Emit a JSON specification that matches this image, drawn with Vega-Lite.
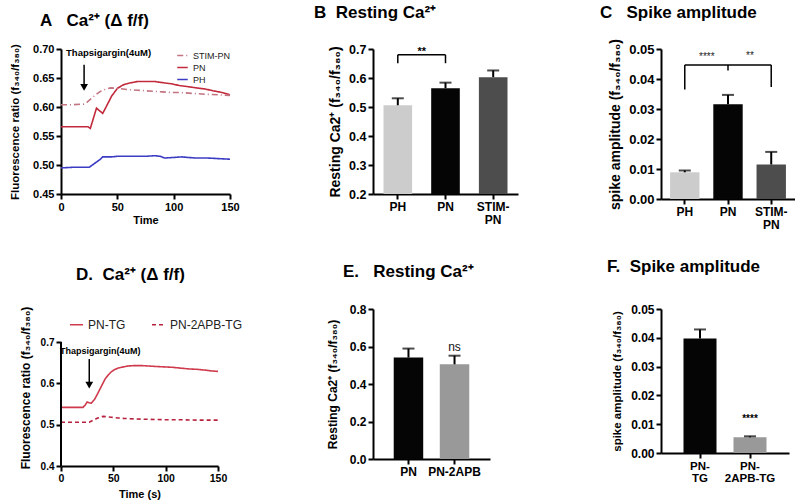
{
  "$schema": "https://vega.github.io/schema/vega-lite/v6.json",
  "padding": {"left": 9, "top": 4, "right": 0, "bottom": 0},
  "columns": 3,
  "align": "each",
  "bounds": "flush",
  "spacing": {"row": 110, "column": 143},
  "resolve": {"scale": {"color": "independent", "strokeDash": "independent"}},
  "config": {
    "font": "Liberation Sans",
    "view": {"stroke": null},
    "axis": {"grid": false, "domainColor": "#000", "domainWidth": 2, "tickColor": "#000", "tickWidth": 2, "tickSize": 5, "labelColor": "#000", "labelFontWeight": "bold", "titleColor": "#000", "titleFontWeight": "bold", "labelFont": "Liberation Sans", "titleFont": "Liberation Sans", "labelPadding": 2, "labelFlush": false, "labelOverlap": false, "tickCount": 20},
    "axisX": {"labelAngle": 0},
    "title": {"anchor": "start", "fontSize": 17, "fontWeight": "bold", "color": "#000", "font": "Liberation Sans"},
    "legend": {"labelColor": "#222", "labelFont": "Liberation Sans"}
  },
  "datasets": {
    "curvesA": [
      {"s": "PN", "t": 0, "v": 0.566}, {"s": "PN", "t": 10, "v": 0.566}, {"s": "PN", "t": 20, "v": 0.566}, {"s": "PN", "t": 24, "v": 0.566}, {"s": "PN", "t": 26, "v": 0.563}, {"s": "PN", "t": 31.5, "v": 0.598}, {"s": "PN", "t": 37, "v": 0.589}, {"s": "PN", "t": 40, "v": 0.6}, {"s": "PN", "t": 45, "v": 0.619}, {"s": "PN", "t": 50, "v": 0.632}, {"s": "PN", "t": 55, "v": 0.638}, {"s": "PN", "t": 60, "v": 0.641}, {"s": "PN", "t": 68, "v": 0.644}, {"s": "PN", "t": 75, "v": 0.644}, {"s": "PN", "t": 83, "v": 0.644}, {"s": "PN", "t": 90, "v": 0.642}, {"s": "PN", "t": 98, "v": 0.64}, {"s": "PN", "t": 105, "v": 0.637}, {"s": "PN", "t": 113, "v": 0.635}, {"s": "PN", "t": 120, "v": 0.633}, {"s": "PN", "t": 128, "v": 0.631}, {"s": "PN", "t": 135, "v": 0.628}, {"s": "PN", "t": 143, "v": 0.625}, {"s": "PN", "t": 150, "v": 0.621},
      {"s": "STIM-PN", "t": 0, "v": 0.604}, {"s": "STIM-PN", "t": 10, "v": 0.604}, {"s": "STIM-PN", "t": 20, "v": 0.605}, {"s": "STIM-PN", "t": 23, "v": 0.608}, {"s": "STIM-PN", "t": 26, "v": 0.613}, {"s": "STIM-PN", "t": 30, "v": 0.62}, {"s": "STIM-PN", "t": 35, "v": 0.627}, {"s": "STIM-PN", "t": 40, "v": 0.631}, {"s": "STIM-PN", "t": 44, "v": 0.633}, {"s": "STIM-PN", "t": 50, "v": 0.632}, {"s": "STIM-PN", "t": 55, "v": 0.631}, {"s": "STIM-PN", "t": 60, "v": 0.63}, {"s": "STIM-PN", "t": 68, "v": 0.629}, {"s": "STIM-PN", "t": 75, "v": 0.628}, {"s": "STIM-PN", "t": 83, "v": 0.627}, {"s": "STIM-PN", "t": 90, "v": 0.626}, {"s": "STIM-PN", "t": 98, "v": 0.625}, {"s": "STIM-PN", "t": 105, "v": 0.625}, {"s": "STIM-PN", "t": 113, "v": 0.624}, {"s": "STIM-PN", "t": 120, "v": 0.623}, {"s": "STIM-PN", "t": 128, "v": 0.622}, {"s": "STIM-PN", "t": 140, "v": 0.621}, {"s": "STIM-PN", "t": 150, "v": 0.62},
      {"s": "PH", "t": 0, "v": 0.495}, {"s": "PH", "t": 10, "v": 0.496}, {"s": "PH", "t": 20, "v": 0.496}, {"s": "PH", "t": 25, "v": 0.496}, {"s": "PH", "t": 30, "v": 0.503}, {"s": "PH", "t": 35, "v": 0.51}, {"s": "PH", "t": 37, "v": 0.514}, {"s": "PH", "t": 45, "v": 0.514}, {"s": "PH", "t": 50, "v": 0.515}, {"s": "PH", "t": 60, "v": 0.515}, {"s": "PH", "t": 68, "v": 0.515}, {"s": "PH", "t": 75, "v": 0.515}, {"s": "PH", "t": 83, "v": 0.516}, {"s": "PH", "t": 88, "v": 0.515}, {"s": "PH", "t": 92, "v": 0.512}, {"s": "PH", "t": 100, "v": 0.513}, {"s": "PH", "t": 107, "v": 0.514}, {"s": "PH", "t": 113, "v": 0.513}, {"s": "PH", "t": 120, "v": 0.512}, {"s": "PH", "t": 130, "v": 0.512}, {"s": "PH", "t": 140, "v": 0.511}, {"s": "PH", "t": 150, "v": 0.51}
    ],
    "arrowA": [{"t": 20.5, "y1": 0.673, "y2": 0.634}],
    "labelA": [{"t": 4.5, "v": 0.693, "label": "Thapsigargin(4uM)"}],
    "curvesD": [
      {"s": "PN-TG", "t": 0, "v": 0.542}, {"s": "PN-TG", "t": 10, "v": 0.542}, {"s": "PN-TG", "t": 21, "v": 0.542}, {"s": "PN-TG", "t": 23, "v": 0.547}, {"s": "PN-TG", "t": 25, "v": 0.555}, {"s": "PN-TG", "t": 27, "v": 0.553}, {"s": "PN-TG", "t": 29, "v": 0.552}, {"s": "PN-TG", "t": 32, "v": 0.561}, {"s": "PN-TG", "t": 35, "v": 0.575}, {"s": "PN-TG", "t": 37, "v": 0.585}, {"s": "PN-TG", "t": 40, "v": 0.6}, {"s": "PN-TG", "t": 42, "v": 0.61}, {"s": "PN-TG", "t": 45, "v": 0.62}, {"s": "PN-TG", "t": 48, "v": 0.628}, {"s": "PN-TG", "t": 51, "v": 0.633}, {"s": "PN-TG", "t": 54.5, "v": 0.637}, {"s": "PN-TG", "t": 60, "v": 0.64}, {"s": "PN-TG", "t": 64, "v": 0.642}, {"s": "PN-TG", "t": 70, "v": 0.643}, {"s": "PN-TG", "t": 77, "v": 0.643}, {"s": "PN-TG", "t": 84, "v": 0.642}, {"s": "PN-TG", "t": 90, "v": 0.641}, {"s": "PN-TG", "t": 98, "v": 0.64}, {"s": "PN-TG", "t": 106, "v": 0.639}, {"s": "PN-TG", "t": 114, "v": 0.637}, {"s": "PN-TG", "t": 122, "v": 0.635}, {"s": "PN-TG", "t": 130, "v": 0.634}, {"s": "PN-TG", "t": 138, "v": 0.632}, {"s": "PN-TG", "t": 144, "v": 0.63}, {"s": "PN-TG", "t": 150, "v": 0.629},
      {"s": "PN-2APB-TG", "t": 0, "v": 0.506}, {"s": "PN-2APB-TG", "t": 10, "v": 0.506}, {"s": "PN-2APB-TG", "t": 20, "v": 0.506}, {"s": "PN-2APB-TG", "t": 27, "v": 0.506}, {"s": "PN-2APB-TG", "t": 31, "v": 0.511}, {"s": "PN-2APB-TG", "t": 35, "v": 0.516}, {"s": "PN-2APB-TG", "t": 40, "v": 0.52}, {"s": "PN-2APB-TG", "t": 45, "v": 0.519}, {"s": "PN-2APB-TG", "t": 48, "v": 0.518}, {"s": "PN-2APB-TG", "t": 55, "v": 0.516}, {"s": "PN-2APB-TG", "t": 61, "v": 0.515}, {"s": "PN-2APB-TG", "t": 70, "v": 0.514}, {"s": "PN-2APB-TG", "t": 83, "v": 0.513}, {"s": "PN-2APB-TG", "t": 100, "v": 0.512}, {"s": "PN-2APB-TG", "t": 115, "v": 0.512}, {"s": "PN-2APB-TG", "t": 130, "v": 0.511}, {"s": "PN-2APB-TG", "t": 150, "v": 0.511}
    ],
    "arrowD": [{"t": 27, "y1": 0.659, "y2": 0.596}],
    "labelD": [{"t": 0, "v": 0.678, "label": "Thapsigargin(4uM)"}],
    "axisD": [{"t": 0, "y1": 0.4, "y2": 0.7}],
    "barsB": [{"g": "PH", "v": 0.506, "hi": 0.53}, {"g": "PN", "v": 0.565, "hi": 0.584}, {"g": "STIM-PN", "v": 0.603, "hi": 0.626}],
    "brB": [{"x1": "PH", "x2": "PN", "y1": 0.68, "y2": 0.68}, {"x1": "PH", "x2": "PH", "y1": 0.651, "y2": 0.68}, {"x1": "PN", "x2": "PN", "y1": 0.651, "y2": 0.68}],
    "txtB": [{"x": "PH", "y": 0.688, "label": "**"}],
    "barsC": [{"g": "PH", "v": 0.0089, "hi": 0.0095}, {"g": "PN", "v": 0.0316, "hi": 0.0347}, {"g": "STIM-PN", "v": 0.0115, "hi": 0.0157}],
    "brC": [{"x1": "PH", "x2": "PN", "y1": 0.0447, "y2": 0.0447}, {"x1": "PH", "x2": "PH", "y1": 0.0365, "y2": 0.0447}, {"x1": "PN", "x2": "PN", "y1": 0.0428, "y2": 0.0447}, {"x1": "PN", "x2": "STIM-PN", "y1": 0.0447, "y2": 0.0447}, {"x1": "STIM-PN", "x2": "STIM-PN", "y1": 0.0373, "y2": 0.0447}],
    "txtC": [{"x": "PH", "y": 0.0472, "label": "****"}, {"x": "PN", "y": 0.0478, "label": "**"}],
    "barsE": [{"g": "PN", "v": 0.541, "hi": 0.589}, {"g": "PN-2APB", "v": 0.505, "hi": 0.551}],
    "txtE": [{"x": "PN-2APB", "y": 0.598, "label": "ns"}],
    "barsF": [{"g": "PN-TG", "v": 0.0398, "hi": 0.0429}, {"g": "PN-2APB-TG", "v": 0.0055, "hi": 0.0058}],
    "txtF": [{"x": "PN-2APB-TG", "y": 0.0118, "label": "****"}]
  },
  "concat": [
    {
      "width": 169, "height": 145,
      "title": {"text": "A\u00a0\u00a0\u00a0Ca²⁺ (Δ f/f)", "frame": "group", "dx": -21, "offset": 13},
      "layer": [
        {"data": {"name": "curvesA"}, "mark": {"type": "line", "strokeWidth": 1.6},
          "encoding": {
            "x": {"field": "t", "type": "quantitative", "scale": {"domain": [0, 150], "nice": false}, "axis": {"title": "Time", "values": [0, 50, 100, 150], "labelFontSize": 11, "titleFontSize": 11, "titlePadding": 2}},
            "y": {"field": "v", "type": "quantitative", "scale": {"domain": [0.45, 0.7], "nice": false, "zero": false}, "axis": {"title": "Fluorescence ratio (f₃₄₀/f₃₈₀)", "values": [0.45, 0.5, 0.55, 0.6, 0.65, 0.7], "tickCount": 20, "format": ".2f", "labelFontSize": 11, "titleFontSize": 11.5, "titlePadding": 12}},
            "color": {"field": "s", "type": "nominal", "scale": {"domain": ["STIM-PN", "PN", "PH"], "range": ["#c27480", "#c22a3c", "#3b3bc4"]}, "legend": {"title": null, "orient": "top-right", "offset": 0, "padding": 0, "symbolType": "stroke", "symbolSize": 110, "symbolStrokeWidth": 1.6, "labelFontSize": 9, "rowPadding": 0}},
            "strokeDash": {"field": "s", "type": "nominal", "scale": {"domain": ["STIM-PN", "PN", "PH"], "range": [[6, 3, 1, 3], [1, 0], [1, 0]]}, "legend": {"title": null, "orient": "top-right", "offset": 0, "padding": 0, "symbolType": "stroke", "symbolSize": 110, "symbolStrokeWidth": 1.6, "labelFontSize": 9, "rowPadding": 0}}
          }},
        {"data": {"name": "arrowA"}, "mark": {"type": "rule", "strokeWidth": 1.5, "color": "#000"},
          "encoding": {"x": {"field": "t", "type": "quantitative"}, "y": {"field": "y1", "type": "quantitative"}, "y2": {"field": "y2"}}},
        {"data": {"name": "arrowA"}, "mark": {"type": "point", "shape": "triangle-down", "filled": true, "color": "#000", "size": 60, "opacity": 1},
          "encoding": {"x": {"field": "t", "type": "quantitative"}, "y": {"field": "y2", "type": "quantitative"}}},
        {"data": {"name": "labelA"}, "mark": {"type": "text", "align": "left", "baseline": "middle", "fontWeight": "bold", "fontSize": 9.5, "color": "#000"},
          "encoding": {"x": {"field": "t", "type": "quantitative"}, "y": {"field": "v", "type": "quantitative"}, "text": {"field": "label"}}}
      ]
    },
    {
      "width": 145, "height": 145,
      "title": {"text": "B\u00a0\u00a0Resting Ca²⁺", "frame": "group", "dx": -59, "offset": 21},
      "layer": [
        {"data": {"name": "barsB"}, "mark": {"type": "bar"},
          "encoding": {
            "x": {"field": "g", "type": "nominal", "scale": {"domain": ["PH", "PN", "STIM-PN"], "paddingInner": 0.4, "paddingOuter": 0.22}, "axis": {"title": null, "labelExpr": "datum.label == 'STIM-PN' ? ['STIM-', 'PN'] : datum.label", "labelFontSize": 12, "labelLineHeight": 13}},
            "y": {"field": "v", "type": "quantitative", "scale": {"domain": [0.2, 0.7], "nice": false, "zero": false}, "axis": {"title": "Resting Ca2⁺ (f₃₄₀/f₃₈₀)", "values": [0.2, 0.3, 0.4, 0.5, 0.6, 0.7], "tickCount": 20, "format": ".1f", "labelFontSize": 12.5, "titleFontSize": 14, "titlePadding": 6}},
            "y2": {"datum": 0.2},
            "color": {"field": "g", "type": "nominal", "scale": {"domain": ["PH", "PN", "STIM-PN"], "range": ["#cccccc", "#050505", "#4d4d4d"]}, "legend": null}
          }},
        {"data": {"name": "barsB"}, "mark": {"type": "rule", "color": "#000", "strokeWidth": 2},
          "encoding": {"x": {"field": "g", "type": "nominal"}, "y": {"field": "v", "type": "quantitative"}, "y2": {"field": "hi"}}},
        {"data": {"name": "barsB"}, "mark": {"type": "tick", "color": "#000", "thickness": 2, "size": 12},
          "encoding": {"x": {"field": "g", "type": "nominal"}, "y": {"field": "hi", "type": "quantitative"}}},
        {"data": {"name": "brB"}, "mark": {"type": "rule", "color": "#000", "strokeWidth": 1.5},
          "encoding": {"x": {"field": "x1", "type": "nominal"}, "x2": {"field": "x2"}, "y": {"field": "y1", "type": "quantitative"}, "y2": {"field": "y2"}}},
        {"data": {"name": "txtB"}, "mark": {"type": "text", "dx": 24, "baseline": "middle", "fontWeight": "bold", "fontSize": 11, "color": "#000"},
          "encoding": {"x": {"field": "x", "type": "nominal"}, "y": {"field": "y", "type": "quantitative"}, "text": {"field": "label"}}}
      ]
    },
    {
      "width": 134, "height": 150,
      "title": {"text": "C\u00a0\u00a0\u00a0Spike amplitude", "frame": "group", "dx": -61, "offset": 16},
      "layer": [
        {"data": {"name": "barsC"}, "mark": {"type": "bar"},
          "encoding": {
            "x": {"field": "g", "type": "nominal", "scale": {"domain": ["PH", "PN", "STIM-PN"], "paddingInner": 0.32, "paddingOuter": 0.21}, "axis": {"title": null, "labelExpr": "datum.label == 'STIM-PN' ? ['STIM-', 'PN'] : datum.label", "labelFontSize": 12, "labelLineHeight": 13}},
            "y": {"field": "v", "type": "quantitative", "scale": {"domain": [0, 0.05], "nice": false}, "axis": {"title": "spike amplitude (f₃₄₀/f₃₈₀)", "values": [0, 0.01, 0.02, 0.03, 0.04, 0.05], "tickCount": 20, "format": ".2f", "labelFontSize": 13, "titleFontSize": 14, "titlePadding": 6}},
            "color": {"field": "g", "type": "nominal", "scale": {"domain": ["PH", "PN", "STIM-PN"], "range": ["#cccccc", "#050505", "#4d4d4d"]}, "legend": null}
          }},
        {"data": {"name": "barsC"}, "mark": {"type": "rule", "color": "#000", "strokeWidth": 2},
          "encoding": {"x": {"field": "g", "type": "nominal"}, "y": {"field": "v", "type": "quantitative"}, "y2": {"field": "hi"}}},
        {"data": {"name": "barsC"}, "mark": {"type": "tick", "color": "#000", "thickness": 2, "size": 12},
          "encoding": {"x": {"field": "g", "type": "nominal"}, "y": {"field": "hi", "type": "quantitative"}}},
        {"data": {"name": "brC"}, "mark": {"type": "rule", "color": "#000", "strokeWidth": 1.5},
          "encoding": {"x": {"field": "x1", "type": "nominal"}, "x2": {"field": "x2"}, "y": {"field": "y1", "type": "quantitative"}, "y2": {"field": "y2"}}},
        {"data": {"name": "txtC"}, "mark": {"type": "text", "dx": 22, "baseline": "middle", "fontSize": 10, "color": "#222"},
          "encoding": {"x": {"field": "x", "type": "nominal"}, "y": {"field": "y", "type": "quantitative"}, "text": {"field": "label"}}}
      ]
    },
    {
      "width": 157, "height": 157,
      "title": {"text": "D.\u00a0\u00a0Ca²⁺ (Δ f/f)", "frame": "group", "dx": 15, "offset": 22},
      "layer": [
        {"data": {"name": "curvesD"}, "mark": {"type": "line", "strokeWidth": 1.6},
          "encoding": {
            "x": {"field": "t", "type": "quantitative", "scale": {"domain": [0, 150], "nice": false}, "axis": {"title": "Time (s)", "values": [0, 50, 100, 150], "labelFontSize": 10.5, "titleFontSize": 11, "titlePadding": 5}},
            "y": {"field": "v", "type": "quantitative", "scale": {"domain": [0.4, 0.78], "nice": false, "zero": false}, "axis": {"title": "Fluorescence ratio (f₃₄₀/f₃₈₀)", "values": [0.4, 0.5, 0.6, 0.7], "tickCount": 20, "format": ".1f", "domain": false, "labelFontSize": 10, "titleFontSize": 12, "titlePadding": 8}},
            "color": {"field": "s", "type": "nominal", "scale": {"domain": ["PN-TG", "PN-2APB-TG"], "range": ["#cf3a4c", "#b8223e"]}, "legend": {"title": null, "orient": "top-left", "direction": "horizontal", "offset": 8, "padding": 0, "symbolType": "stroke", "symbolSize": 170, "symbolStrokeWidth": 1.6, "labelFontSize": 12, "columnPadding": 22}},
            "strokeDash": {"field": "s", "type": "nominal", "scale": {"domain": ["PN-TG", "PN-2APB-TG"], "range": [[1, 0], [4, 3]]}, "legend": {"title": null, "orient": "top-left", "direction": "horizontal", "offset": 8, "padding": 0, "symbolType": "stroke", "symbolSize": 170, "symbolStrokeWidth": 1.6, "labelFontSize": 12, "columnPadding": 22}}
          }},
        {"data": {"name": "axisD"}, "mark": {"type": "rule", "strokeWidth": 2, "color": "#000"},
          "encoding": {"x": {"field": "t", "type": "quantitative"}, "y": {"field": "y1", "type": "quantitative"}, "y2": {"field": "y2"}}},
        {"data": {"name": "arrowD"}, "mark": {"type": "rule", "strokeWidth": 1.5, "color": "#000"},
          "encoding": {"x": {"field": "t", "type": "quantitative"}, "y": {"field": "y1", "type": "quantitative"}, "y2": {"field": "y2"}}},
        {"data": {"name": "arrowD"}, "mark": {"type": "point", "shape": "triangle-down", "filled": true, "color": "#000", "size": 60, "opacity": 1},
          "encoding": {"x": {"field": "t", "type": "quantitative"}, "y": {"field": "y2", "type": "quantitative"}}},
        {"data": {"name": "labelD"}, "mark": {"type": "text", "align": "left", "baseline": "middle", "fontWeight": "bold", "fontSize": 9, "color": "#000", "dx": -1},
          "encoding": {"x": {"field": "t", "type": "quantitative"}, "y": {"field": "v", "type": "quantitative"}, "text": {"field": "label"}}}
      ]
    },
    {
      "width": 117, "height": 150,
      "title": {"text": "E.\u00a0\u00a0\u00a0Resting Ca²⁺", "frame": "group", "dx": -30, "offset": 22},
      "layer": [
        {"data": {"name": "barsE"}, "mark": {"type": "bar"},
          "encoding": {
            "x": {"field": "g", "type": "nominal", "scale": {"domain": ["PN", "PN-2APB"], "paddingInner": 0.36, "paddingOuter": 0.45}, "axis": {"title": null, "labelFontSize": 12}},
            "y": {"field": "v", "type": "quantitative", "scale": {"domain": [0, 0.8], "nice": false}, "axis": {"title": "Resting Ca2⁺ (f₃₄₀/f₃₈₀)", "values": [0, 0.2, 0.4, 0.6, 0.8], "tickCount": 20, "format": ".1f", "labelFontSize": 12, "titleFontSize": 12, "titlePadding": 10}},
            "color": {"field": "g", "type": "nominal", "scale": {"domain": ["PN", "PN-2APB"], "range": ["#050505", "#999999"]}, "legend": null}
          }},
        {"data": {"name": "barsE"}, "mark": {"type": "rule", "color": "#000", "strokeWidth": 2},
          "encoding": {"x": {"field": "g", "type": "nominal"}, "y": {"field": "v", "type": "quantitative"}, "y2": {"field": "hi"}}},
        {"data": {"name": "barsE"}, "mark": {"type": "tick", "color": "#000", "thickness": 2, "size": 12},
          "encoding": {"x": {"field": "g", "type": "nominal"}, "y": {"field": "hi", "type": "quantitative"}}},
        {"data": {"name": "txtE"}, "mark": {"type": "text", "baseline": "middle", "fontSize": 12, "color": "#111"},
          "encoding": {"x": {"field": "x", "type": "nominal"}, "y": {"field": "y", "type": "quantitative"}, "text": {"field": "label"}}}
      ]
    },
    {
      "width": 128, "height": 144,
      "title": {"text": "F.\u00a0\u00a0Spike amplitude", "frame": "group", "dx": -54, "offset": 27},
      "layer": [
        {"data": {"name": "barsF"}, "mark": {"type": "bar"},
          "encoding": {
            "x": {"field": "g", "type": "nominal", "scale": {"domain": ["PN-TG", "PN-2APB-TG"], "paddingInner": 0.34, "paddingOuter": 0.45}, "axis": {"title": null, "labelExpr": "datum.label == 'PN-TG' ? ['PN-', 'TG'] : ['PN-', '2APB-TG']", "labelFontSize": 11.5, "labelLineHeight": 12}},
            "y": {"field": "v", "type": "quantitative", "scale": {"domain": [0, 0.05], "nice": false}, "axis": {"title": "spike amplitude (f₃₄₀/f₃₈₀)", "values": [0, 0.01, 0.02, 0.03, 0.04, 0.05], "tickCount": 20, "format": ".2f", "labelFontSize": 12, "titleFontSize": 11.5, "titlePadding": 8}},
            "color": {"field": "g", "type": "nominal", "scale": {"domain": ["PN-TG", "PN-2APB-TG"], "range": ["#050505", "#999999"]}, "legend": null}
          }},
        {"data": {"name": "barsF"}, "mark": {"type": "rule", "color": "#000", "strokeWidth": 2},
          "encoding": {"x": {"field": "g", "type": "nominal"}, "y": {"field": "v", "type": "quantitative"}, "y2": {"field": "hi"}}},
        {"data": {"name": "barsF"}, "mark": {"type": "tick", "color": "#000", "thickness": 2, "size": 12},
          "encoding": {"x": {"field": "g", "type": "nominal"}, "y": {"field": "hi", "type": "quantitative"}}},
        {"data": {"name": "txtF"}, "mark": {"type": "text", "baseline": "middle", "fontWeight": "bold", "fontSize": 10, "color": "#000"},
          "encoding": {"x": {"field": "x", "type": "nominal"}, "y": {"field": "y", "type": "quantitative"}, "text": {"field": "label"}}}
      ]
    }
  ]
}
